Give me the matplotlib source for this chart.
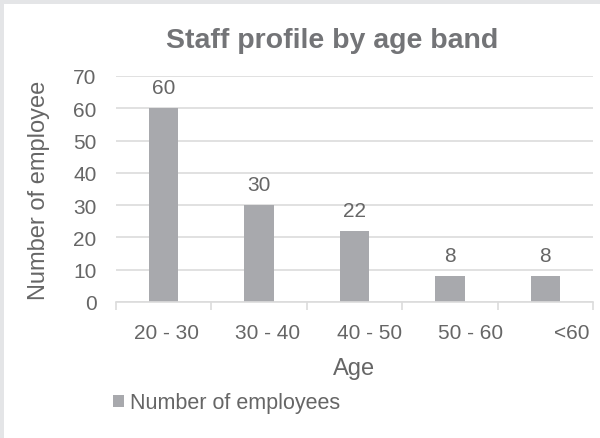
import matplotlib
matplotlib.use("Agg")
import matplotlib.pyplot as plt
from matplotlib.patches import Rectangle

categories = ["20 - 30", "30 - 40", "40 - 50", "50 - 60", "<60"]
employees = [60, 30, 22, 8, 8]
series_name = "Number of employees"
title = "Staff profile by age band"
xlabel = "Age"
ylabel = "Number of employee"
yticks = [0, 10, 20, 30, 40, 50, 60, 70]

plt.rcParams['font.family'] = ['Liberation Sans', 'DejaVu Sans']
TEXT = '#666666'
BAR = '#a8a9ad'
GRID = '#dcdcdc'

fig = plt.figure(figsize=(6.0, 4.39), dpi=100)
fig.patch.set_facecolor('white')
# light grey frame strips at left and top
fig.patches.append(Rectangle((0, 0), 4/600, 1, transform=fig.transFigure,
                             facecolor='#e4e5e7', edgecolor='none', zorder=0))
fig.patches.append(Rectangle((0, 1 - 5/439), 1, 5/439, transform=fig.transFigure,
                             facecolor='#e4e5e7', edgecolor='none', zorder=0))

ax = fig.add_axes([116/600, 1 - 303/439, (593 - 116)/600, (303 - 77)/439])
x = list(range(len(categories)))
bars = ax.bar(x, employees, width=0.31, color=BAR, zorder=2, label=series_name)

ax.set_xlim(-0.5, len(categories) - 0.5)
ax.set_ylim(0, 70)
ax.set_yticks(yticks)
ax.yaxis.grid(True, color=GRID, linewidth=1.2, zorder=0)
ax.tick_params(axis='y', length=0, pad=14, labelsize=15, labelcolor=TEXT)

# category labels
label_pos = [i * 1.062 + 0.03 for i in x]
ax.set_xticks(label_pos)
ax.set_xticklabels(categories)
ax.tick_params(axis='x', which='major', length=0, pad=15, labelsize=15, labelcolor=TEXT)
ax.set_xticks([i - 0.5 for i in range(len(categories) + 1)], minor=True)
ax.tick_params(axis='x', which='minor', length=6, width=1.2, color=GRID)

for s in ['top', 'right', 'left']:
    ax.spines[s].set_visible(False)
ax.spines['bottom'].set_color(GRID)
ax.spines['bottom'].set_linewidth(1.2)

for xi, v in zip(x, employees):
    ax.annotate(str(v), (xi, v), xytext=(0, 15), textcoords='offset points',
                ha='center', va='center', fontsize=15, color=TEXT)

fig.text(332/600, 1 - 48/439, title, fontsize=20.5, fontweight='bold',
         color='#737477', ha='center', va='baseline')
ax.set_xlabel(xlabel, fontsize=17, color=TEXT, labelpad=11)
ax.set_ylabel(ylabel, fontsize=17, color=TEXT, labelpad=17)

fig.legend(handles=[bars], labels=[series_name], loc='center left',
           bbox_to_anchor=(113/600, 1 - 404/439), frameon=False, fontsize=15.5,
           handlelength=0.5, handleheight=0.5, handletextpad=0.3, borderpad=0,
           borderaxespad=0, labelcolor=TEXT)

fig.savefig('out.png', dpi=100, facecolor='white')
